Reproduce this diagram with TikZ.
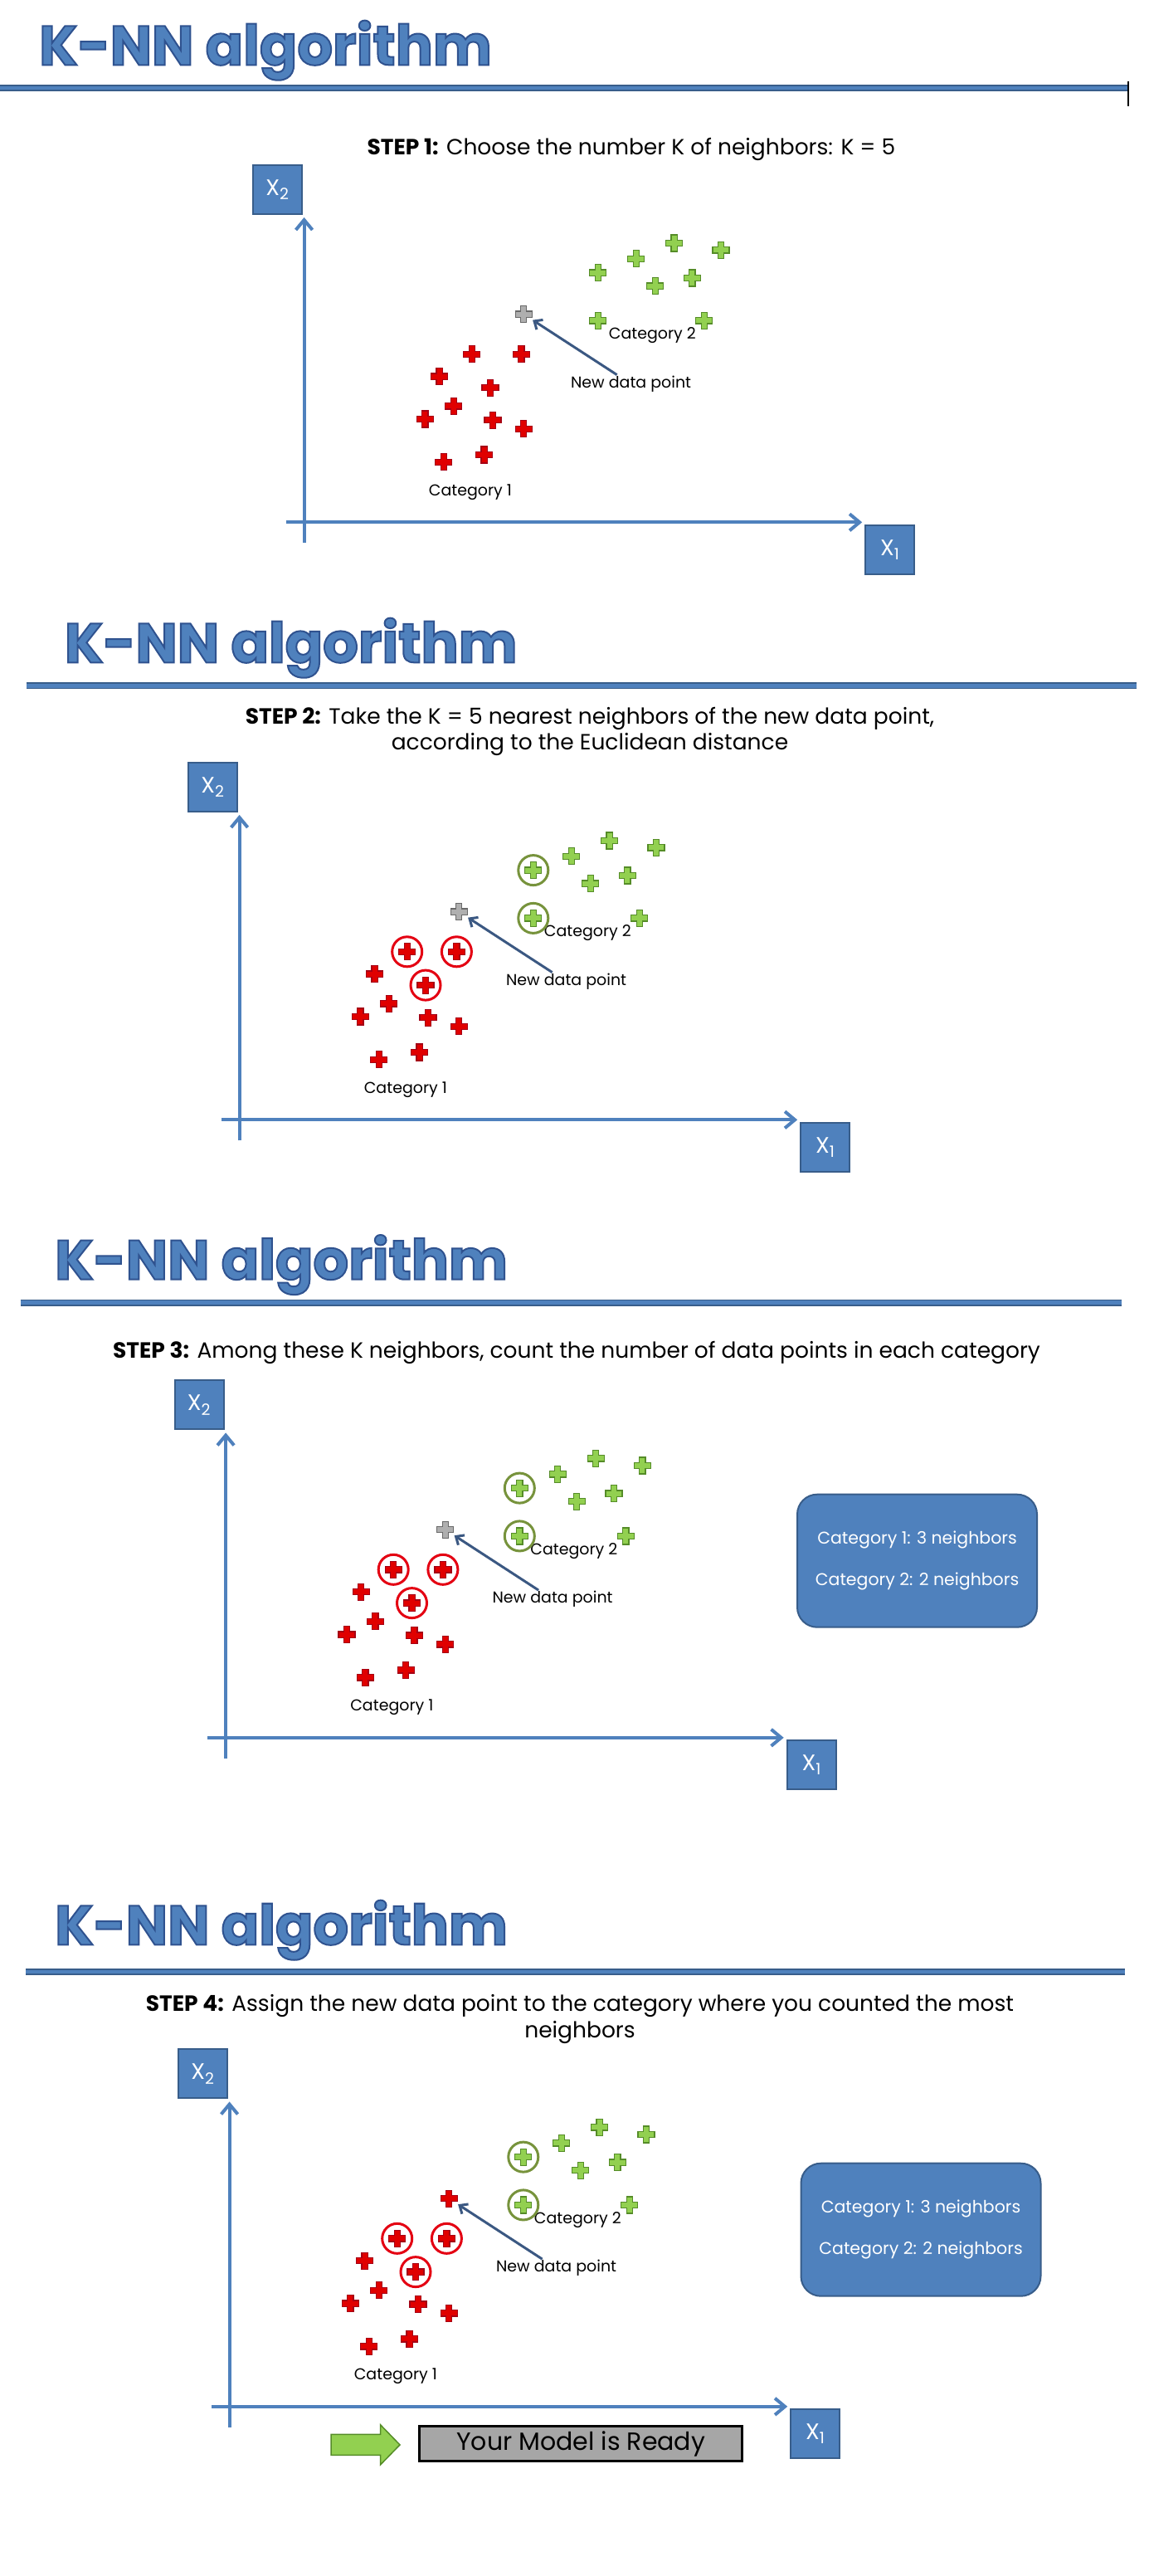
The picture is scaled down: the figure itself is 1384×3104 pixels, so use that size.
\documentclass[tikz,border=0pt]{standalone}
\usepackage{fontspec}
\setmainfont{Poppins}
\usetikzlibrary{arrows.meta, calc}

\definecolor{knnblue}{RGB}{79,129,189}
\definecolor{knnedge}{RGB}{56,93,138}
\definecolor{ptred}{RGB}{224,0,0}
\definecolor{ptredline}{RGB}{165,0,20}
\definecolor{ptgreen}{RGB}{146,208,80}
\definecolor{ptgreenline}{RGB}{85,140,40}
\definecolor{ptgray}{RGB}{175,175,175}
\definecolor{ptgrayline}{RGB}{105,105,105}
\definecolor{ringred}{RGB}{228,0,18}
\definecolor{ringgreen}{RGB}{119,147,60}
\definecolor{pointerblue}{RGB}{59,88,130}
\definecolor{readygray}{RGB}{166,166,166}

% blue heading letters with a darker outline
\newcommand{\knntitle}{\color{knnblue}\special{pdf:code 0.184 0.322 0.561 RG 2 w 2 Tr}K-NN algorithm\special{pdf:code 0 Tr}}

\begin{document}
\begin{tikzpicture}[x=1pt, y=-1pt,
    axis/.style={draw=knnblue, line width=4pt, -{Straight Barb[length=12pt, width=20pt]}, shorten >=3pt},
    axbox/.style={draw=knnedge, fill=knnblue, line width=2pt, text=white, inner sep=0pt,
      minimum width=59pt, minimum height=59pt, font=\fontsize{27}{27}\selectfont},
    pointer/.style={draw=pointerblue, line width=3pt, -{Straight Barb[length=8pt, width=14pt]}, shorten >=13pt},
    ptlabel/.style={font=\fontsize{19}{19}\selectfont, inner sep=0pt},
    steptext/.style={font=\fontsize{26.5}{31.6}\selectfont, align=center, inner sep=0pt},
    titletext/.style={anchor=base west, inner sep=0pt, font=\fontsize{67}{67}\selectfont\bfseries},
    rule/.style={draw=knnedge, line width=1.6pt, double=knnblue, double distance=4.8pt},
    catbox/.style={draw=knnedge, fill=knnblue, line width=2pt, rounded corners=24pt,
      minimum width=289pt, minimum height=160pt, text=white, align=center, font=\fontsize{20.5}{50}\selectfont},
    redpt/.style={fill=ptred, draw=ptredline, line width=1.2pt},
    greenpt/.style={fill=ptgreen, draw=ptgreenline, line width=1.2pt},
    graypt/.style={fill=ptgray, draw=ptgrayline, line width=1.2pt},
    redring/.style={draw=ringred, line width=3pt},
    greenring/.style={draw=ringgreen, line width=3pt},
    datapt/.pic={\path[pic actions] (-10,-3.6) -- (-3.6,-3.6) -- (-3.6,-10) -- (3.6,-10) -- (3.6,-3.6) -- (10,-3.6)
      -- (10,3.6) -- (3.6,3.6) -- (3.6,10) -- (-3.6,10) -- (-3.6,3.6) -- (-10,3.6) -- cycle;}
  ]
  \path[use as bounding box, fill=white] (0,0) rectangle (1384,3104);

  % headings of the four slides
  \node[titletext] (title1) at (46.9,78.3) {\knntitle};
  \draw[rule] (0,106) -- (1360,106);
  \draw[line width=1.5pt] (1360,98) -- (1360,128);
  \node[steptext, anchor=base] (step1) at (761,186.4) {\textbf{STEP 1:} Choose the number K of neighbors: K = 5};

  \node[titletext] (title2) at (77.7,798.3) {\knntitle};
  \draw[rule] (31.8,826.4) -- (1370,826.4);
  \node[steptext] (step2) at (711,881.6) {\textbf{STEP 2:} Take the K = 5 nearest neighbors of the new data point,\\according to the Euclidean distance};

  \node[titletext] (title3) at (66,1541.7) {\knntitle};
  \draw[rule] (24.7,1569.7) -- (1352,1569.7);
  \node[steptext, anchor=base] (step3) at (695,1636.5) {\textbf{STEP 3:} Among these K neighbors, count the number of data points in each category};

  \node[titletext] (title4) at (66,2343.3) {\knntitle};
  \draw[rule] (31,2376) -- (1356,2376);
  \node[steptext] (step4) at (699,2432.9) {\textbf{STEP 4:} Assign the new data point to the category where you counted the most\\neighbors};

  % the same scatter plot on every slide
  \foreach \dx/\dy/\p in {0/0/1, -78/720/2, -94.5/1464.5/3, -90/2270.5/4} {
    \begin{scope}[shift={(\dx,\dy)}, name prefix=p\p-]
      \node[axbox] (x2) at (334.5,228.4) {X\textsubscript{2}};
      \node[axbox] (x1) at (1072.7,662.4) {X\textsubscript{1}};
      \coordinate (yfoot) at (366.6,654.3);
      \coordinate (xfoot) at (344.8,629.3);
      \draw[axis] (yfoot) -- (yfoot |- x2.south);
      \draw[axis] (xfoot) -- (xfoot -| x1.west);

      \foreach \px/\py in {568.7/426.8, 628.4/426.8, 529.6/453.6, 591.0/467.1, 546.8/489.3,
                           512.4/505.0, 593.9/506.1, 631.2/516.8, 583.6/547.9, 534.8/556.8}
        \pic[redpt] at (\px,\py) {datapt};
      \foreach \px/\py in {812.6/292.9, 868.9/301.4, 766.7/311.8, 720.8/328.6,
                           834.4/335.0, 789.7/344.6, 720.8/386.4, 848.8/386.4}
        \pic[greenpt] at (\px,\py) {datapt};

      \coordinate (newpt) at (631.2,378.6);
      \ifnum\p=4
        \pic[redpt] at (newpt) {datapt};
      \else
        \pic[graypt] at (newpt) {datapt};
      \fi

      \node[ptlabel] (cat2) at (786.4,404.3) {Category 2};
      \node[ptlabel] (newlbl) at (760.6,462.5) {New data point};
      \node[ptlabel] (cat1) at (566.9,592.9) {Category 1};
      \draw[pointer] ($(newlbl.north)+(-17,-1)$) -- (newpt);

      \ifnum\p>1
        \foreach \px/\py in {568.7/426.8, 628.4/426.8, 591.0/467.1}
          \draw[redring] (\px,\py) circle (18);
        \foreach \px/\py in {720.8/328.6, 720.8/386.4}
          \draw[greenring] (\px,\py) circle (18);
      \fi
      \ifnum\p>2
        \node[catbox] (count) at (1200,416.2) {Category 1: 3 neighbors\\Category 2: 2 neighbors};
      \fi
    \end{scope}
  }

  % result of the last slide
  \filldraw[draw=ptgreenline, fill=ptgreen, line width=1.5pt] (399,2933.3) -- (458.5,2933.3) -- (458.5,2921.7)
    -- (482,2945.9) -- (458.5,2970) -- (458.5,2958.3) -- (399,2958.3) -- cycle;
  \node[draw=black, line width=3.5pt, fill=readygray, minimum width=389pt, minimum height=42pt,
    inner sep=0pt, font=\fontsize{30}{30}\selectfont] (ready) at (700.2,2944.5) {Your Model is Ready};
\end{tikzpicture}
\end{document}
